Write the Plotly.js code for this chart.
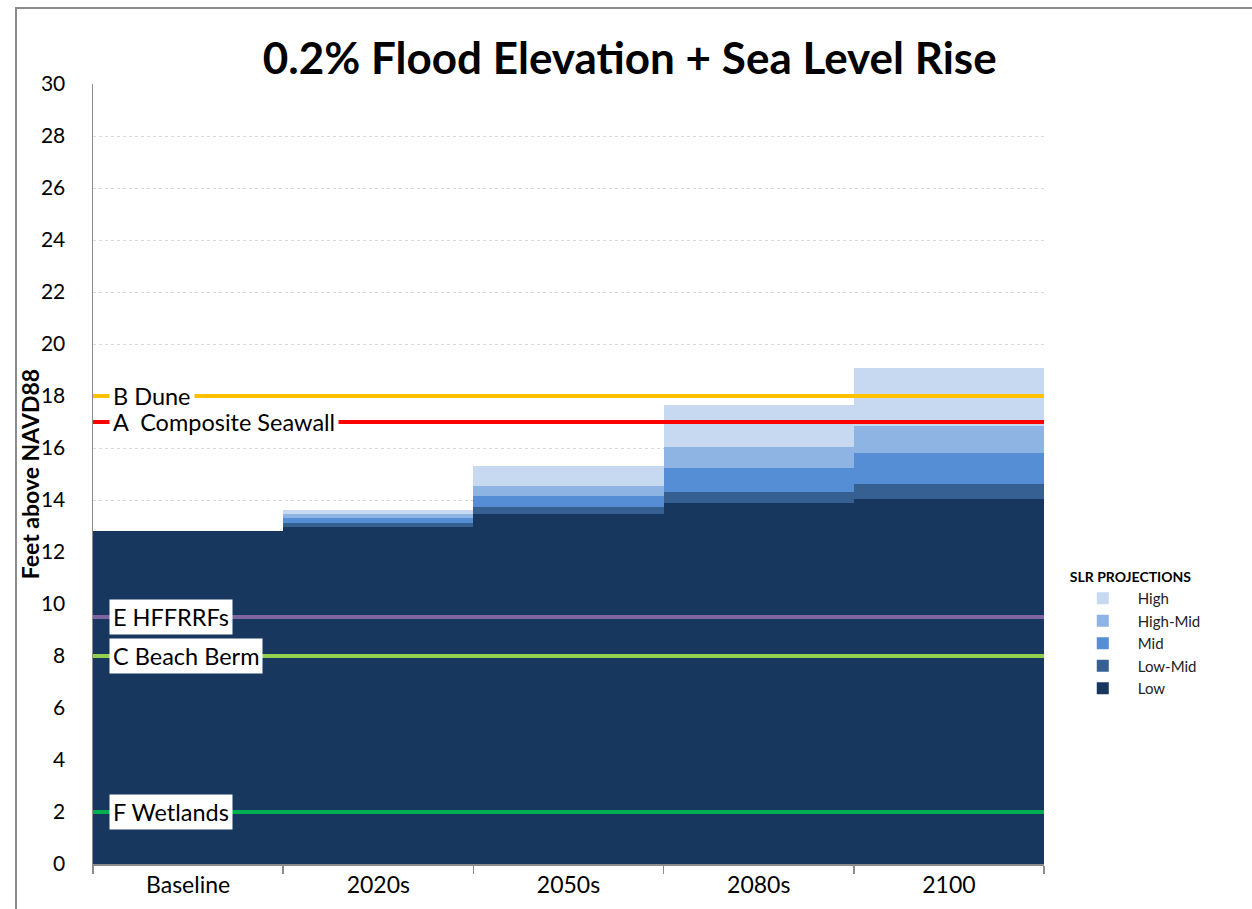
<!DOCTYPE html>
<html>
<head>
<meta charset="utf-8">
<script src="https://cdn.plot.ly/plotly-3.0.1.min.js"></script>
<style>
  html, body { margin: 0; padding: 0; background: #fff; }
  #wrap { position: relative; width: 1252px; height: 909px; overflow: hidden; }
  #frame { position: absolute; left: 15px; top: 7px; width: 1300px; height: 1000px;
           border-left: 2px solid #8c8c8c; border-top: 2px solid #8c8c8c; pointer-events: none; }
  #chart { position: absolute; left: 0; top: 0; width: 1252px; height: 909px; }
</style>
</head>
<body>
<div id="wrap">
  <div id="chart"></div>
  <div id="frame"></div>
</div>
<script>
// Categories (time horizons)
const categories = ["Baseline", "2020s", "2050s", "2080s", "2100"];

// Flood elevation (feet above NAVD88) = top of each SLR projection band
const low     = [12.8, 12.97, 13.46, 13.90, 14.05];
const lowMid  = [12.8, 13.13, 13.74, 14.32, 14.63];
const mid     = [12.8, 13.31, 14.15, 15.24, 15.82];
const highMid = [12.8, 13.46, 14.54, 16.05, 16.86];
const high    = [12.8, 13.62, 15.31, 17.65, 19.09];

const seriesNames  = ["High", "High-Mid", "Mid", "Low-Mid", "Low"];
const seriesColors = ["#C6D9F1", "#8EB4E3", "#558ED5", "#376092", "#17375E"];
const seriesValues = [high, highMid, mid, lowMid, low];

// Protection elements (reference lines)
const featureLabels = ["A  Composite Seawall", "B Dune", "E HFFRRFs", "C Beach Berm", "F Wetlands"];
const featureLevels = [17, 18, 9.5, 8, 2];
const featureColors = ["#FF0000", "#FFC000", "#8064A2", "#92D050", "#00B050"];

const yTicks = [0, 2, 4, 6, 8, 10, 12, 14, 16, 18, 20, 22, 24, 26, 28, 30];

const FONT = "Lato, 'Noto Sans', sans-serif";

const traces = seriesNames.map((name, i) => ({
  type: "bar",
  name: name,
  x: categories,
  y: seriesValues[i],
  marker: { color: seriesColors[i], line: { width: 0 } },
  hoverinfo: "x+y+name"
}));

const shapes = featureLevels.map((lvl, i) => ({
  type: "line",
  xref: "paper", yref: "y",
  x0: 0, x1: 1, y0: lvl, y1: lvl,
  line: { color: featureColors[i], width: 4 },
  layer: "above"
}));

const annotations = featureLabels.map((lab, i) => ({
  text: lab,
  xref: "paper", yref: "y",
  x: 0.0167, y: featureLevels[i],
  xanchor: "left", yanchor: "middle",
  showarrow: false,
  bgcolor: "#FFFFFF",
  borderpad: 3,
  font: { family: FONT, size: 23.5, color: "#000" }
}));

// y-axis title placed as a rotated annotation
annotations.push({
  text: "<b>Feet above NAVD88</b>",
  xref: "paper", yref: "paper",
  x: -0.066, y: 0.5,
  xanchor: "center", yanchor: "middle",
  textangle: -90,
  showarrow: false,
  font: { family: FONT, size: 23, color: "#000" }
});

const layout = {
  width: 1252, height: 909,
  paper_bgcolor: "rgba(0,0,0,0)",
  plot_bgcolor: "#FFFFFF",
  margin: { l: 93, r: 208, t: 84, b: 45 },
  barmode: "overlay",
  bargap: 0,
  title: {
    text: "<b>0.2% Flood Elevation + Sea Level Rise</b>",
    font: { family: FONT, size: 44, color: "#000" },
    x: 0.503, xref: "container", xanchor: "center",
    y: 0.936, yref: "container", yanchor: "middle"
  },
  xaxis: {
    type: "category",
    showline: true, linecolor: "#8c8c8c", linewidth: 1.5,
    ticks: "outside", tickson: "boundaries", ticklen: 8, tickcolor: "#8c8c8c", tickwidth: 1.5,
    tickfont: { family: FONT, size: 23, color: "#000" },
    showgrid: false,
    fixedrange: true
  },
  yaxis: {
    range: [0, 30],
    tickvals: yTicks,
    ticktext: yTicks.map(String),
    showline: true, linecolor: "#8c8c8c", linewidth: 1.5,
    ticks: "",
    ticklabelstandoff: 22,
    tickfont: { family: FONT, size: 21, color: "#000" },
    showgrid: true, gridcolor: "#D9D9D9", griddash: "dot", gridwidth: 1,
    zeroline: false,
    fixedrange: true
  },
  legend: {
    x: 1.025, xanchor: "left",
    y: 0.385, yanchor: "top",
    title: { text: "<b>SLR PROJECTIONS</b>", font: { family: FONT, size: 14, color: "#000" }, side: "top" },
    font: { family: FONT, size: 15, color: "#222" },
    itemwidth: 60,
    tracegroupgap: 0,
    bgcolor: "rgba(0,0,0,0)"
  },
  shapes: shapes,
  annotations: annotations
};

Plotly.newPlot("chart", traces, layout, { displayModeBar: false, staticPlot: true });
</script>
</body>
</html>
